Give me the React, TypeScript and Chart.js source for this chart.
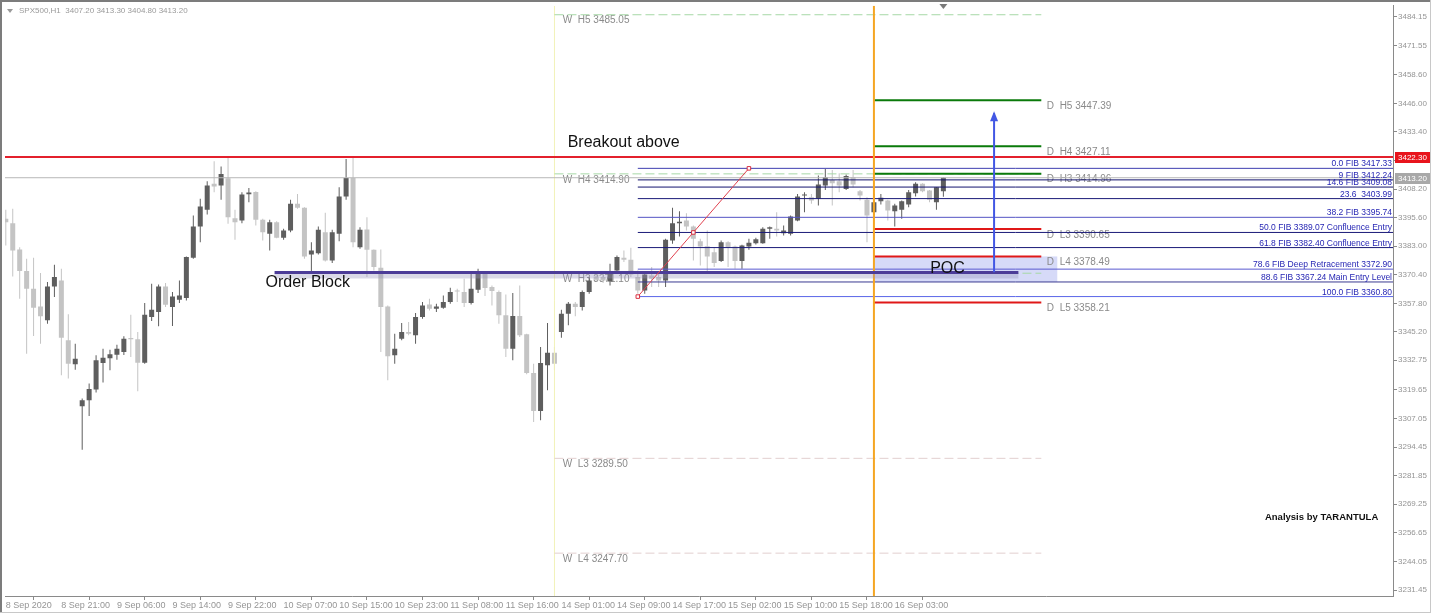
import React, { useEffect, useRef } from "react";
import { Chart, registerables } from "chart.js";
Chart.register(...registerables);

// ---------- DATA ----------
const opens = [
  3395.08, 3393.17, 3381.57, 3372.04, 3364.26, 3356.48, 3350.32, 3365.29, 3367.93, 3341.51,
  3330.95, 3312.46, 3315.10, 3319.79, 3331.53, 3333.59, 3335.20, 3336.38, 3342.54, 3341.95,
  3331.68, 3351.79, 3353.99, 3365.29, 3356.19, 3359.42, 3360.15, 3377.91, 3391.70, 3399.04,
  3410.49, 3409.75, 3412.98, 3395.37, 3394.34, 3405.94, 3406.96, 3394.64, 3388.47, 3393.61,
  3386.71, 3389.94, 3401.68, 3399.92, 3379.37, 3379.96, 3389.21, 3376.73, 3388.47, 3404.91,
  3413.13, 3382.60, 3390.38, 3381.43, 3373.50, 3356.48, 3334.91, 3342.25, 3345.18, 3343.71,
  3351.79, 3357.36, 3355.45, 3355.89, 3358.39, 3363.52, 3362.79, 3357.95, 3363.82, 3371.60,
  3365.00, 3362.79, 3352.52, 3337.85, 3352.23, 3344.15, 3327.13, 3310.40, 3330.51, 3336.08,
  3345.18, 3353.26, 3357.66, 3356.19, 3362.79, 3369.69, 3369.40, 3367.49, 3372.33, 3377.91,
  3377.03, 3369.40, 3363.52, 3370.13, 3369.40, 3367.93, 3385.54, 3393.17, 3394.34, 3391.70,
  3385.24, 3383.04, 3380.40, 3376.44, 3384.80, 3382.90, 3376.44, 3382.90, 3384.36, 3384.36,
  3390.67, 3390.67, 3388.77, 3388.47, 3394.34, 3405.35, 3404.61, 3403.88, 3409.75, 3412.25,
  3411.66, 3408.28, 3413.42, 3407.26, 3403.44, 3398.01, 3402.85, 3403.15, 3398.45, 3399.04,
  3401.39, 3406.38, 3410.49, 3407.55, 3402.41, 3407.20,
];
const highs = [
  3399.04, 3399.48, 3382.60, 3377.47, 3377.91, 3371.16, 3367.20, 3374.83, 3373.06, 3352.96,
  3340.05, 3315.83, 3322.44, 3334.91, 3337.85, 3337.41, 3339.60, 3343.27, 3352.81, 3345.18,
  3357.95, 3366.46, 3366.17, 3366.75, 3362.79, 3367.93, 3378.49, 3396.54, 3403.88, 3411.66,
  3420.46, 3418.12, 3422.30, 3399.04, 3406.82, 3408.72, 3407.26, 3395.08, 3394.64, 3394.05,
  3390.67, 3403.44, 3406.08, 3400.21, 3384.80, 3391.70, 3397.72, 3390.23, 3409.02, 3421.49,
  3422.30, 3391.41, 3395.81, 3381.57, 3381.57, 3356.92, 3344.45, 3349.14, 3349.58, 3353.55,
  3358.39, 3359.86, 3357.66, 3361.32, 3364.70, 3364.26, 3368.66, 3371.60, 3373.06, 3371.90,
  3365.73, 3363.52, 3361.77, 3362.35, 3365.73, 3344.45, 3331.24, 3338.58, 3349.14, 3338.58,
  3355.01, 3358.39, 3358.39, 3363.52, 3369.40, 3370.57, 3370.86, 3375.27, 3378.93, 3381.14,
  3382.31, 3372.33, 3372.04, 3373.80, 3370.86, 3386.27, 3399.92, 3398.45, 3397.57, 3392.14,
  3386.27, 3389.94, 3382.60, 3385.54, 3385.24, 3383.34, 3383.63, 3386.27, 3386.71, 3391.41,
  3391.70, 3398.01, 3392.14, 3396.54, 3406.08, 3406.82, 3406.08, 3414.16, 3417.09, 3416.65,
  3415.18, 3414.59, 3416.65, 3407.84, 3404.61, 3406.08, 3406.08, 3403.44, 3401.68, 3403.15,
  3407.84, 3411.22, 3410.78, 3407.84, 3409.02, 3413.30,
];
const lows = [
  3383.34, 3369.69, 3359.86, 3335.64, 3343.42, 3340.05, 3348.85, 3360.59, 3326.10, 3324.64,
  3328.60, 3293.30, 3308.20, 3318.47, 3322.88, 3328.30, 3333.00, 3335.06, 3334.18, 3319.06,
  3331.24, 3350.03, 3347.68, 3356.19, 3347.82, 3357.95, 3359.12, 3377.47, 3384.80, 3396.98,
  3406.82, 3403.44, 3392.88, 3385.83, 3393.17, 3402.41, 3392.14, 3385.54, 3381.14, 3386.57,
  3385.83, 3389.21, 3399.48, 3377.47, 3372.04, 3379.37, 3376.29, 3375.56, 3385.24, 3403.44,
  3382.60, 3381.87, 3369.40, 3372.33, 3336.38, 3323.90, 3331.24, 3341.51, 3343.71, 3340.05,
  3351.05, 3354.72, 3353.99, 3355.45, 3357.66, 3358.39, 3356.19, 3357.36, 3362.35, 3361.03,
  3356.92, 3348.85, 3334.18, 3332.71, 3342.98, 3326.54, 3305.56, 3306.29, 3319.50, 3328.30,
  3342.69, 3348.12, 3352.08, 3354.72, 3362.06, 3367.63, 3366.75, 3365.73, 3371.60, 3376.00,
  3369.40, 3362.06, 3362.06, 3365.00, 3365.00, 3365.00, 3384.07, 3387.30, 3389.94, 3376.73,
  3374.53, 3371.60, 3373.80, 3376.00, 3373.80, 3373.06, 3373.06, 3381.43, 3383.78, 3384.07,
  3386.27, 3387.30, 3387.74, 3387.74, 3394.05, 3398.01, 3401.68, 3400.95, 3407.84, 3400.95,
  3406.82, 3407.84, 3409.02, 3403.15, 3384.80, 3395.81, 3401.39, 3394.34, 3391.70, 3395.08,
  3400.21, 3404.91, 3406.82, 3402.41, 3399.04, 3404.80,
];
const closes = [
  3393.61, 3381.14, 3372.04, 3364.26, 3355.89, 3352.08, 3365.29, 3369.40, 3342.69, 3331.24,
  3333.44, 3315.10, 3320.09, 3332.71, 3333.88, 3335.35, 3337.85, 3342.25, 3341.95, 3331.68,
  3352.81, 3355.01, 3365.29, 3357.22, 3360.89, 3361.33, 3378.20, 3391.70, 3400.51, 3409.75,
  3409.31, 3414.89, 3395.81, 3393.61, 3405.79, 3406.67, 3394.64, 3389.21, 3393.61, 3386.71,
  3389.94, 3401.68, 3399.92, 3378.49, 3381.14, 3390.23, 3376.73, 3389.21, 3404.91, 3413.13,
  3384.80, 3390.23, 3381.43, 3373.80, 3356.19, 3334.47, 3337.85, 3345.18, 3344.45, 3351.79,
  3356.92, 3355.45, 3356.48, 3358.39, 3362.79, 3363.09, 3357.95, 3364.26, 3371.60, 3364.55,
  3363.23, 3352.52, 3337.85, 3352.23, 3343.71, 3327.13, 3310.40, 3331.53, 3336.08, 3331.24,
  3353.26, 3357.66, 3356.19, 3362.79, 3367.93, 3368.22, 3367.93, 3371.60, 3378.20, 3377.03,
  3370.57, 3363.52, 3370.57, 3368.66, 3367.93, 3385.83, 3393.17, 3393.76, 3391.70, 3386.27,
  3382.90, 3378.49, 3375.56, 3384.80, 3382.60, 3376.44, 3383.34, 3384.51, 3386.12, 3390.67,
  3391.41, 3389.94, 3389.94, 3396.10, 3404.91, 3405.79, 3403.15, 3410.19, 3413.42, 3410.78,
  3409.75, 3414.01, 3410.19, 3405.35, 3396.54, 3402.41, 3404.32, 3398.75, 3400.95, 3402.85,
  3406.82, 3410.49, 3407.26, 3403.44, 3409.02, 3413.20,
];

const timeLabelBars = [0, 8, 16, 24, 32, 40, 48, 56, 64, 72, 80, 88, 96, 104, 112, 120, 128];
const timeLabels = [
  "8 Sep 2020", "8 Sep 21:00", "9 Sep 06:00", "9 Sep 14:00", "9 Sep 22:00", "10 Sep 07:00",
  "10 Sep 15:00", "10 Sep 23:00", "11 Sep 08:00", "11 Sep 16:00", "14 Sep 01:00", "14 Sep 09:00",
  "14 Sep 17:00", "15 Sep 02:00", "15 Sep 10:00", "15 Sep 18:00", "16 Sep 03:00",
];
const priceTicks = [
  3484.15, 3471.55, 3458.6, 3446.0, 3433.4, 3420.8, 3408.2, 3395.6, 3383.0, 3370.4, 3357.8,
  3345.2, 3332.75, 3319.65, 3307.05, 3294.45, 3281.85, 3269.25, 3256.65, 3244.05, 3231.45,
];

const fibLevels = [3417.33, 3412.24, 3409.08, 3403.99, 3395.74, 3389.07, 3382.4, 3372.9, 3367.24, 3360.8];
const fibTexts = [
  "0.0 FIB 3417.33", "9 FIB 3412.24", "14.6 FIB 3409.08", "23.6  3403.99", "38.2 FIB 3395.74",
  "50.0 FIB 3389.07 Confluence Entry", "61.8 FIB 3382.40 Confluence Entry",
  "78.6 FIB Deep Retracement 3372.90", "88.6 FIB 3367.24 Main Entry Level", "100.0 FIB 3360.80",
];
const fibStartBar = 91;
const fibEndBar = 107;

const dailyPivotNames = ["H5", "H4", "H3", "L3", "L4", "L5"];
const dailyPivotLevels = [3447.39, 3427.11, 3414.96, 3390.65, 3378.49, 3358.21];
const weeklyPivotNames = ["H5", "H4", "H3", "L3", "L4"];
const weeklyPivotLevels = [3485.05, 3414.9, 3371.1, 3289.5, 3247.7];

const resistanceLevel = 3422.3;
const orderBlockLevel = 3371.45;
const pocTop = 3378.5;
const pocBottom = 3367.27;
const arrowFrom = 3371.5;
const arrowTo = 3441.6;

const weekStartBar = 79;
const dayStartBar = 125;
const levelsEndBar = 149.1;
const orderBlockStartBar = 38.7;
const orderBlockEndBar = 145.8;
const pocEndBar = 151.4;
const arrowBar = 142.3;

// ---------- STYLE ----------
const FONT = "'Liberation Sans', Arial, sans-serif";
const W = 1431;
const H = 613;
const X_MIN = -0.115;
const X_MAX = 199.74;
const Y_MIN = 3228.81;
const Y_MAX = 3488.99;
const BULL = "#5e5e5e";
const BEAR = "#c4c4c4";
const AXIS_TEXT = "#959595";

const fibColors = ["#3f3fb0", "#14146e", "#14146e", "#1a1a78", "#5454c4", "#1a1a78", "#1a1a78", "#5a5ad0", "#3a3a90", "#5a66e8"];

export default function App() {
  const ref = useRef<HTMLCanvasElement>(null);

  useEffect(() => {
    const canvas = ref.current;
    if (!canvas) return;
    const n = opens.length;
    const colors = opens.map((o, i) => (closes[i] >= o ? BULL : BEAR));

    const hline = (x0: number, x1: number, p: number, color: string, width: number, order: number, dash: number[] = []) => ({
      type: "line" as const,
      data: [{ x: x0, y: p }, { x: x1, y: p }],
      borderColor: color,
      borderWidth: width,
      borderDash: dash,
      pointRadius: 0,
      fill: false,
      order,
    });
    const vline = (x: number, color: string, width: number, order: number) => ({
      type: "line" as const,
      data: [{ x, y: Y_MIN }, { x, y: Y_MAX }],
      borderColor: color,
      borderWidth: width,
      pointRadius: 0,
      fill: false,
      order,
    });

    const datasets: any[] = [];
    datasets.push({
      type: "bar",
      data: highs.map((h, i) => ({ x: i, y: [lows[i], h] })),
      backgroundColor: colors,
      barThickness: 1,
      grouped: false,
      borderWidth: 0,
      inflateAmount: 0,
      order: 60,
    });
    datasets.push({
      type: "bar",
      data: opens.map((o, i) => ({ x: i, y: [o, closes[i]] })),
      backgroundColor: colors,
      barThickness: 5,
      minBarLength: 1,
      grouped: false,
      borderWidth: 0,
      inflateAmount: 0,
      order: 59,
    });
    datasets.push(vline(weekStartBar, "#f2f2b8", 1, 55));
    weeklyPivotLevels.forEach((p, k) => {
      const c = weeklyPivotNames[k].startsWith("H") ? "#a6d8a6" : "#e2cfcf";
      datasets.push(hline(weekStartBar, levelsEndBar, p, c, 1, 50, [9, 4]));
    });
    dailyPivotLevels.forEach((p, k) => {
      const c = dailyPivotNames[k].startsWith("H") ? "#0a7a0a" : "#e01818";
      datasets.push(hline(dayStartBar, levelsEndBar, p, c, 2, 45));
    });
    fibLevels.forEach((p, k) => {
      datasets.push(hline(fibStartBar, X_MAX, p, fibColors[k], 1, 40));
    });
    datasets.push(hline(X_MIN, X_MAX, closes[n - 1], "#b8b8b8", 1, 35));
    datasets.push(hline(X_MIN, X_MAX, resistanceLevel, "#e3202c", 2, 34));
    datasets.push(vline(dayStartBar, "#f5a623", 2, 33));
    datasets.push(hline(orderBlockStartBar, orderBlockEndBar, orderBlockLevel - 1.6, "rgba(150,145,185,0.35)", 5, 31));
    datasets.push(hline(orderBlockStartBar, orderBlockEndBar, orderBlockLevel, "#4c3c98", 3, 30));
    datasets.push({
      type: "line",
      data: [{ x: arrowBar, y: arrowFrom }, { x: arrowBar, y: arrowTo }],
      borderColor: "#4257e4",
      borderWidth: 2,
      pointRadius: 0,
      fill: false,
      order: 20,
    });
    datasets.push({
      type: "line",
      data: [
        { x: fibStartBar, y: fibLevels[9] },
        { x: (fibStartBar + fibEndBar) / 2, y: fibLevels[5] },
        { x: fibEndBar, y: fibLevels[0] },
      ],
      borderColor: "#e0404e",
      borderWidth: 1,
      pointStyle: "rect",
      pointRadius: 2.5,
      pointBorderColor: "#d83040",
      pointBackgroundColor: "#ffffff",
      pointBorderWidth: 1,
      fill: false,
      order: 10,
    });

    const overlay = {
      id: "overlay",
      beforeDatasetsDraw(chart: any) {
        const { ctx, scales } = chart;
        const xs = scales.x, ys = scales.y;
        ctx.save();
        // POC box
        const x0 = xs.getPixelForValue(dayStartBar);
        const x1 = xs.getPixelForValue(pocEndBar);
        const y0 = ys.getPixelForValue(pocTop);
        const y1 = ys.getPixelForValue(pocBottom);
        ctx.fillStyle = "#d6daf8";
        ctx.fillRect(x0, y0, x1 - x0, y1 - y0);
        // pivot labels
        ctx.font = `10px ${FONT}`;
        ctx.fillStyle = "#8a8a8a";
        ctx.textAlign = "left";
        ctx.textBaseline = "top";
        weeklyPivotLevels.forEach((p, k) => {
          ctx.fillText(`W  ${weeklyPivotNames[k]} ${p.toFixed(2)}`, xs.getPixelForValue(weekStartBar + 1.2), ys.getPixelForValue(p) + 1);
        });
        dailyPivotLevels.forEach((p, k) => {
          ctx.fillText(`D  ${dailyPivotNames[k]} ${p.toFixed(2)}`, xs.getPixelForValue(levelsEndBar + 0.8), ys.getPixelForValue(p) + 1);
        });
        ctx.restore();
      },
      afterDatasetsDraw(chart: any) {
        const { ctx, scales, chartArea } = chart;
        const xs = scales.x, ys = scales.y;
        ctx.save();
        // fib labels
        ctx.font = `8.5px ${FONT}`;
        ctx.fillStyle = "#2626b4";
        ctx.textAlign = "right";
        ctx.textBaseline = "alphabetic";
        fibLevels.forEach((p, k) => {
          ctx.fillText(fibTexts[k], chartArea.right - 1, ys.getPixelForValue(p) - 2);
        });
        // arrowhead
        const ax = xs.getPixelForValue(arrowBar);
        const ay = ys.getPixelForValue(arrowTo);
        ctx.fillStyle = "#4257e4";
        ctx.beginPath();
        ctx.moveTo(ax, ay - 2);
        ctx.lineTo(ax - 4, ay + 8);
        ctx.lineTo(ax + 4, ay + 8);
        ctx.closePath();
        ctx.fill();
        // big texts
        ctx.fillStyle = "#111111";
        ctx.textAlign = "left";
        ctx.textBaseline = "middle";
        ctx.font = `16px ${FONT}`;
        ctx.fillText("Breakout above", xs.getPixelForValue(80.9), ys.getPixelForValue(3428.7));
        ctx.fillText("Order Block", xs.getPixelForValue(37.4), ys.getPixelForValue(3367.0));
        ctx.fillText("POC", xs.getPixelForValue(133.1), ys.getPixelForValue(3373.1));
        ctx.font = `bold 9.5px ${FONT}`;
        ctx.fillText("Analysis by TARANTULA", xs.getPixelForValue(181.3), ys.getPixelForValue(3263.6));
        ctx.restore();
      },
      afterDraw(chart: any) {
        const { ctx, scales, chartArea } = chart;
        const ys = scales.y;
        ctx.save();
        // price boxes on axis
        const box = (p: number, bg: string) => {
          const y = Math.round(ys.getPixelForValue(p));
          ctx.fillStyle = bg;
          ctx.fillRect(chartArea.right + 2, y - 5, W - chartArea.right - 3, 11);
          ctx.fillStyle = "#ffffff";
          ctx.font = `8px ${FONT}`;
          ctx.textAlign = "left";
          ctx.textBaseline = "middle";
          ctx.fillText(p.toFixed(2), chartArea.right + 5, y + 0.5);
        };
        box(resistanceLevel, "#e8141c");
        box(closes[closes.length - 1], "#a8a8a8");
        // chart-shift marker
        const mx = scales.x.getPixelForValue(opens.length - 1);
        ctx.fillStyle = "#7a7a7a";
        ctx.beginPath();
        ctx.moveTo(mx - 4, 4);
        ctx.lineTo(mx + 4, 4);
        ctx.lineTo(mx, 9);
        ctx.closePath();
        ctx.fill();
        // header
        const last = opens.length - 1;
        ctx.fillStyle = "#9a9a9a";
        ctx.beginPath();
        ctx.moveTo(7, 9);
        ctx.lineTo(13, 9);
        ctx.lineTo(10, 13);
        ctx.closePath();
        ctx.fill();
        ctx.font = `8px ${FONT}`;
        ctx.textAlign = "left";
        ctx.textBaseline = "middle";
        ctx.fillText(
          `SPX500,H1  ${opens[last].toFixed(2)} ${highs[last].toFixed(2)} ${lows[last].toFixed(2)} ${closes[last].toFixed(2)}`,
          19, 11);
        // frame
        ctx.fillStyle = "#7c7c7c";
        ctx.fillRect(0, 0, W, 2);
        ctx.fillRect(0, 0, 2, H);
        ctx.fillStyle = "#c8c8c8";
        ctx.fillRect(W - 1, 0, 1, H);
        ctx.fillRect(0, H - 1, W, 1);
        ctx.restore();
      },
    };

    const chart = new Chart(canvas, {
      type: "bar",
      data: { datasets },
      options: {
        responsive: false,
        animation: false,
        devicePixelRatio: 1,
        events: [],
        layout: { padding: { left: 4, top: 5, right: 0, bottom: 0 } },
        plugins: { legend: { display: false }, tooltip: { enabled: false } },
        scales: {
          x: {
            type: "linear",
            min: X_MIN,
            max: X_MAX,
            offset: false,
            afterBuildTicks: (s: any) => {
              s.ticks = timeLabelBars.map((v) => ({ value: v }));
            },
            afterFit: (s: any) => {
              s.height = 17;
            },
            ticks: {
              autoSkip: false,
              maxRotation: 0,
              minRotation: 0,
              align: "start",
              padding: 0,
              color: AXIS_TEXT,
              font: { size: 9, family: FONT },
              callback: (_v: any, i: number) => timeLabels[i],
            },
            grid: { drawOnChartArea: false, drawTicks: true, tickLength: 4, color: "#8a8a8a" },
            border: { color: "#8a8a8a", width: 1 },
          },
          y: {
            type: "linear",
            position: "right",
            min: Y_MIN,
            max: Y_MAX,
            beginAtZero: false,
            afterBuildTicks: (s: any) => {
              s.ticks = priceTicks.map((v) => ({ value: v }));
            },
            afterFit: (s: any) => {
              s.width = 38;
            },
            ticks: {
              autoSkip: false,
              padding: 1,
              color: AXIS_TEXT,
              font: { size: 8, family: FONT },
              callback: (v: any) => Number(v).toFixed(2),
            },
            grid: { drawOnChartArea: false, drawTicks: true, tickLength: 4, color: "#8a8a8a" },
            border: { color: "#8a8a8a", width: 1 },
          },
        },
      } as any,
      plugins: [overlay],
    });
    return () => chart.destroy();
  }, []);

  return (
    <div style={{ position: "fixed", left: 0, top: 0, width: W, height: H, background: "#ffffff" }}>
      <canvas ref={ref} width={W} height={H} style={{ display: "block", width: W, height: H }} />
    </div>
  );
}
